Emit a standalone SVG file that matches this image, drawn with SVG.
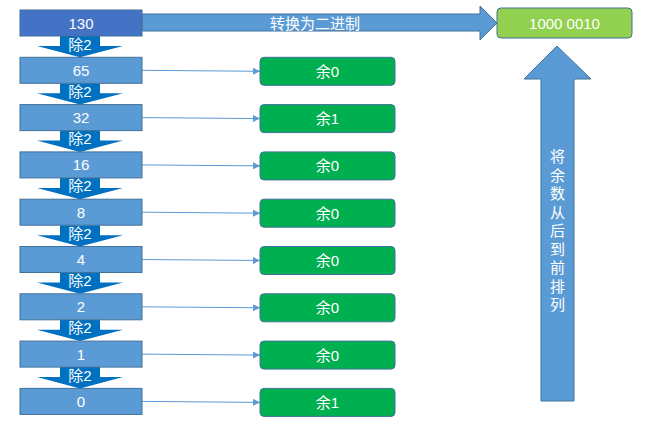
<svg xmlns="http://www.w3.org/2000/svg" width="655" height="432" viewBox="0 0 655 432">
<defs>
<style>
.box{fill:#5B9BD5;stroke:#41719C;stroke-width:1}
.top{fill:#4472C4;stroke:#41719C;stroke-width:1}
.rem{fill:#00B050;stroke:#41719C;stroke-width:1}
.res{fill:#92D050;stroke:#41719C;stroke-width:1}
.dn{fill:#0070C0}
.big{fill:#5B9BD5;stroke:#41719C;stroke-width:1}
.t{fill:#fff;font-family:"Liberation Sans","Noto Sans CJK SC",sans-serif;font-size:15px;text-anchor:middle;dominant-baseline:central}
.c{stroke:#5B9BD5;stroke-width:1;fill:none;marker-end:url(#ah)}
</style>
<marker id="ah" viewBox="0 0 10 10" refX="10" refY="5" markerWidth="7" markerHeight="7" markerUnits="userSpaceOnUse" orient="auto">
<path d="M0,0 L10,5 L0,10 z" fill="#5B9BD5"/>
</marker>
</defs>

<g id="divide-arrows">
<polygon class="dn" points="60,36 100,36 100,46 123,46 80,57.3 37,46 60,46"/>
<polygon class="dn" points="60,83.3 100,83.3 100,93.3 123,93.3 80,104.6 37,93.3 60,93.3"/>
<polygon class="dn" points="60,130.6 100,130.6 100,140.6 123,140.6 80,151.9 37,140.6 60,140.6"/>
<polygon class="dn" points="60,177.9 100,177.9 100,187.9 123,187.9 80,199.2 37,187.9 60,187.9"/>
<polygon class="dn" points="60,225.2 100,225.2 100,235.2 123,235.2 80,246.5 37,235.2 60,235.2"/>
<polygon class="dn" points="60,272.5 100,272.5 100,282.5 123,282.5 80,293.8 37,282.5 60,282.5"/>
<polygon class="dn" points="60,319.8 100,319.8 100,329.8 123,329.8 80,341.1 37,329.8 60,329.8"/>
<polygon class="dn" points="60,367.1 100,367.1 100,377.1 123,377.1 80,388.4 37,377.1 60,377.1"/>
<text class="t" x="80" y="44">除2</text>
<text class="t" x="80" y="91.3">除2</text>
<text class="t" x="80" y="138.6">除2</text>
<text class="t" x="80" y="185.9">除2</text>
<text class="t" x="80" y="233.2">除2</text>
<text class="t" x="80" y="280.5">除2</text>
<text class="t" x="80" y="327.8">除2</text>
<text class="t" x="80" y="375.1">除2</text>
</g>

<g id="convert-arrow">
<polygon class="big" points="142,14 480,14 480,6 497,23 480,40 480,31 142,31"/>
<text class="t" x="315" y="23">转换为二进制</text>
</g>

<g id="reverse-arrow">
<polygon class="big" points="541,401 541,79 524,79 557,46 591,79 574,79 574,401"/>
<text class="t" x="557.5" y="156.7">将</text>
<text class="t" x="557.5" y="175.2">余</text>
<text class="t" x="557.5" y="193.7">数</text>
<text class="t" x="557.5" y="212.2">从</text>
<text class="t" x="557.5" y="230.7">后</text>
<text class="t" x="557.5" y="249.2">到</text>
<text class="t" x="557.5" y="267.7">前</text>
<text class="t" x="557.5" y="286.2">排</text>
<text class="t" x="557.5" y="304.7">列</text>
</g>

<g id="connectors">
<line class="c" x1="142" y1="70.3" x2="260" y2="71.3"/>
<line class="c" x1="142" y1="117.6" x2="260" y2="118.6"/>
<line class="c" x1="142" y1="164.9" x2="260" y2="165.9"/>
<line class="c" x1="142" y1="212.2" x2="260" y2="213.2"/>
<line class="c" x1="142" y1="259.5" x2="260" y2="260.5"/>
<line class="c" x1="142" y1="306.8" x2="260" y2="307.8"/>
<line class="c" x1="142" y1="354.1" x2="260" y2="355.1"/>
<line class="c" x1="142" y1="401.4" x2="260" y2="402.4"/>
</g>

<g id="n130"><rect class="top" x="20" y="10" width="122" height="26"/><text class="t" x="81" y="23">130</text></g>
<g id="n65"><rect class="box" x="20" y="57.3" width="122" height="26"/><text class="t" x="81" y="70.3">65</text></g>
<g id="n32"><rect class="box" x="20" y="104.6" width="122" height="26"/><text class="t" x="81" y="117.6">32</text></g>
<g id="n16"><rect class="box" x="20" y="151.9" width="122" height="26"/><text class="t" x="81" y="164.9">16</text></g>
<g id="n8"><rect class="box" x="20" y="199.2" width="122" height="26"/><text class="t" x="81" y="212.2">8</text></g>
<g id="n4"><rect class="box" x="20" y="246.5" width="122" height="26"/><text class="t" x="81" y="259.5">4</text></g>
<g id="n2"><rect class="box" x="20" y="293.8" width="122" height="26"/><text class="t" x="81" y="306.8">2</text></g>
<g id="n1"><rect class="box" x="20" y="341.1" width="122" height="26"/><text class="t" x="81" y="354.1">1</text></g>
<g id="n0"><rect class="box" x="20" y="388.4" width="122" height="26"/><text class="t" x="81" y="401.4">0</text></g>

<g id="r65"><rect class="rem" x="260" y="57.3" width="135" height="28" rx="4"/><text class="t" x="327.5" y="71.3">余0</text></g>
<g id="r32"><rect class="rem" x="260" y="104.6" width="135" height="28" rx="4"/><text class="t" x="327.5" y="118.6">余1</text></g>
<g id="r16"><rect class="rem" x="260" y="151.9" width="135" height="28" rx="4"/><text class="t" x="327.5" y="165.9">余0</text></g>
<g id="r8"><rect class="rem" x="260" y="199.2" width="135" height="28" rx="4"/><text class="t" x="327.5" y="213.2">余0</text></g>
<g id="r4"><rect class="rem" x="260" y="246.5" width="135" height="28" rx="4"/><text class="t" x="327.5" y="260.5">余0</text></g>
<g id="r2"><rect class="rem" x="260" y="293.8" width="135" height="28" rx="4"/><text class="t" x="327.5" y="307.8">余0</text></g>
<g id="r1"><rect class="rem" x="260" y="341.1" width="135" height="28" rx="4"/><text class="t" x="327.5" y="355.1">余0</text></g>
<g id="r0"><rect class="rem" x="260" y="388.4" width="135" height="28" rx="4"/><text class="t" x="327.5" y="402.4">余1</text></g>

<g id="result"><rect class="res" x="497" y="8" width="135" height="30" rx="4"/><text class="t" x="564.5" y="23">1000 0010</text></g>
</svg>
